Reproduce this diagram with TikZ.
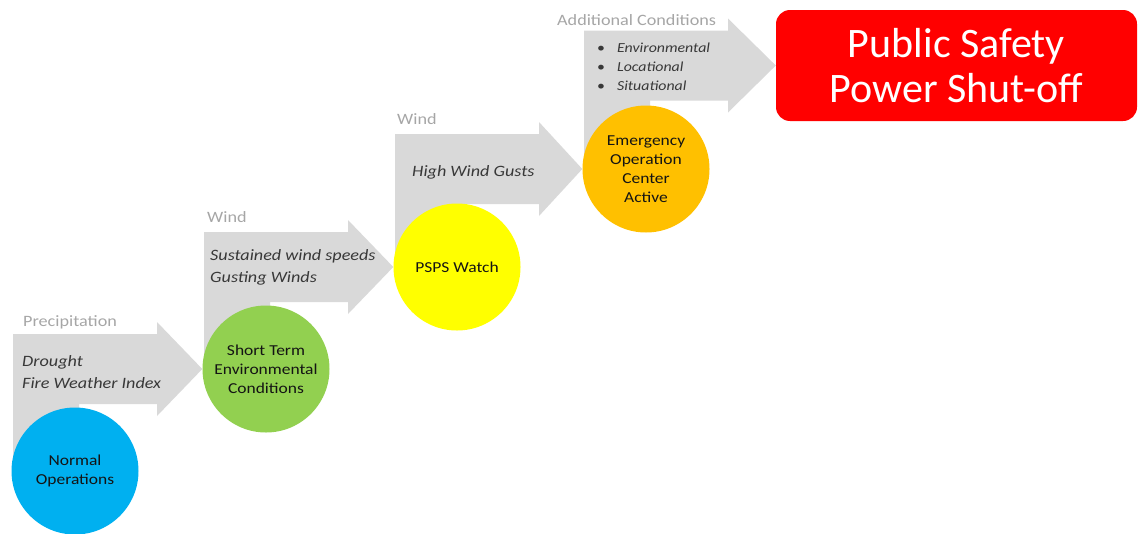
\documentclass[tikz,border=0pt]{standalone}
\usepackage{fontspec}
\setmainfont{Carlito}[FakeStretch=1.15]
\newfontfamily\redfont{Carlito}
\usetikzlibrary{calc}
\definecolor{arrowgray}{HTML}{D9D9D9}
\definecolor{labelgray}{HTML}{A6A6A6}
\definecolor{txtdark}{HTML}{383838}
\definecolor{circtxt}{HTML}{141414}
\definecolor{cblue}{HTML}{00B0F0}
\definecolor{cgreen}{HTML}{92D050}
\definecolor{cyellow}{HTML}{FFFF00}
\definecolor{corange}{HTML}{FFC000}
\definecolor{cred}{HTML}{FF0000}
\pgfdeclarelayer{bg}
\pgfsetlayers{bg,main}
\newcommand\bentarr[2]{%
  \fill[arrowgray] let \p1=(#1.center), \p2=(#2.west) in
    ({\x1-62pt},{\y1}) -- ({\x1-62pt},{\y2+35pt}) -- ({\x1+82pt},{\y2+35pt})
    -- ({\x1+82pt},{\y2+47pt}) -- (\x2,\y2) -- ({\x1+82pt},{\y2-47pt})
    -- ({\x1+82pt},{\y2-35pt}) -- ({\x1+4pt},{\y2-35pt}) -- ({\x1+4pt},{\y1}) -- cycle;}
\tikzset{
  circ/.style={circle, minimum size=127pt, inner sep=0pt, align=center,
    text=circtxt, font=\fontsize{15.2}{19}\selectfont},
  graylabel/.style={anchor=west, inner sep=0pt, text=labelgray,
    font=\fontsize{15.8}{19}\selectfont},
  itlabel/.style={anchor=west, inner sep=0pt, align=left, text=txtdark,
    font=\fontsize{15.8}{22}\selectfont\itshape},
  bulletlabel/.style={anchor=west, inner sep=0pt, text=txtdark,
    font=\fontsize{13.8}{19}\selectfont},
  redbox/.style={rectangle, rounded corners=14pt, fill=cred, text=white,
    minimum width=361pt, minimum height=111pt, align=center,
    font=\redfont\fontsize{42}{45}\selectfont}
}
\begin{document}
\begin{tikzpicture}[x=1pt,y=-1pt]
\useasboundingbox (0,0) rectangle (1139,533);
% circles
\node[circ, fill=cblue] (c1) at (75,471) {Normal\\Operations};
\node[circ, fill=cgreen] (c2) at (266,369) {Short Term\\Environmental\\Conditions};
\node[circ, fill=cyellow] (c3) at (457,267) {PSPS Watch};
\node[circ, fill=corange] (c4) at (646,169) {Emergency\\Operation\\Center\\Active};
\node[redbox] (psps) at (956.5,65.5) {Public Safety\\Power Shut-off};
% bent arrows
\begin{pgfonlayer}{bg}
\bentarr{c1}{c2}
\bentarr{c2}{c3}
\bentarr{c3}{c4}
\bentarr{c4}{psps}
\end{pgfonlayer}
% labels
\node[graylabel] (l1) at (23,322) {Precipitation};
\node[graylabel] (l2) at (207,217) {Wind};
\node[graylabel] (l3) at (397,119) {Wind};
\node[graylabel, fill=white, inner xsep=1pt] (l4) at (556,20) {Additional Conditions};
\node[itlabel] (t1) at (22,372) {Drought\\Fire Weather Index};
\node[itlabel] (t2) at (210,267) {Sustained wind speeds\\Gusting Winds};
\node[itlabel] (t3) at (412,172) {High Wind Gusts};
\node[bulletlabel, align=left] (t4) at (597,67) {\textbullet\hspace{12pt}\textit{Environmental}\\
\textbullet\hspace{12pt}\textit{Locational}\\
\textbullet\hspace{12pt}\textit{Situational}};
\end{tikzpicture}
\end{document}
